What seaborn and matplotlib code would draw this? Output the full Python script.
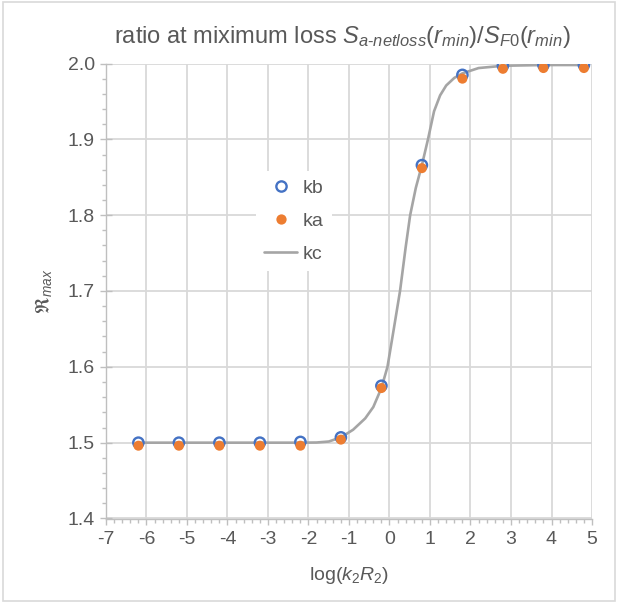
import matplotlib
matplotlib.use("Agg")
import matplotlib.pyplot as plt
from matplotlib.lines import Line2D
from matplotlib.patches import Rectangle
from matplotlib.ticker import MultipleLocator, FormatStrFormatter
import seaborn as sns
import pandas as pd

# sampled points of the two series
log_k2R2 = [-6.2, -5.2, -4.2, -3.2, -2.2, -1.2, -0.2, 0.8, 1.8, 2.8, 3.8, 4.8]
kb = [1.500, 1.500, 1.500, 1.500, 1.501, 1.507, 1.575, 1.866, 1.985, 1.997, 1.998, 1.998]
ka = [1.496, 1.496, 1.496, 1.496, 1.496, 1.504, 1.572, 1.862, 1.980, 1.993, 1.994, 1.994]

# smooth reference curve
kc_x = [-6.2, -5.2, -4.2, -3.2, -2.2, -1.8, -1.5, -1.2, -0.9, -0.6, -0.4, -0.2,
        -0.05, 0.1, 0.26, 0.4, 0.51, 0.65, 0.8, 0.95, 1.1, 1.25, 1.4, 1.6,
        1.8, 2.2, 2.8, 3.8, 4.8]
kc_y = [1.500, 1.500, 1.500, 1.500, 1.500, 1.5002, 1.5015, 1.507, 1.517, 1.532,
        1.547, 1.572, 1.600, 1.648, 1.700, 1.758, 1.800, 1.836, 1.866, 1.900,
        1.937, 1.958, 1.971, 1.981, 1.987, 1.994, 1.997, 1.998, 1.998]

BLUE = "#4472C4"
ORANGE = "#ED7D31"
GREY_LINE = "#A5A5A5"
TEXT = "#595959"
GRID = "#D9D9D9"
AXIS = "#BFBFBF"

sns.set_theme(style="white")
plt.rcParams["font.family"] = ["Liberation Sans", "DejaVu Sans"]
plt.rcParams["mathtext.fontset"] = "custom"
plt.rcParams["mathtext.rm"] = "Liberation Sans"
plt.rcParams["mathtext.it"] = "Liberation Sans:italic"
plt.rcParams["mathtext.fallback"] = "stix"
plt.rcParams["axes.unicode_minus"] = False

fig = plt.figure(figsize=(6.18, 6.03), dpi=100)
ax = fig.add_axes([106 / 618, 1 - 518.5 / 603, 486 / 618, 455 / 603])

pts = pd.DataFrame({"x": log_k2R2, "kb": kb, "ka": ka})
curve = pd.DataFrame({"x": kc_x, "y": kc_y})

sns.lineplot(data=curve, x="x", y="y", ax=ax, color=GREY_LINE, linewidth=1.9,
             sort=False, estimator=None, zorder=3)
sns.scatterplot(data=pts, x="x", y="kb", ax=ax, marker="o", s=55,
                fc="none", ec=BLUE, linewidth=1.7, zorder=4)
sns.scatterplot(data=pts, x="x", y="ka", ax=ax, marker="o", s=52,
                color=ORANGE, ec="none", linewidth=0, zorder=5)

ax.set_xlim(-7, 5)
ax.set_ylim(1.4, 2.0)
ax.xaxis.set_major_locator(MultipleLocator(1))
ax.xaxis.set_minor_locator(MultipleLocator(0.2))
ax.yaxis.set_major_locator(MultipleLocator(0.1))
ax.yaxis.set_minor_locator(MultipleLocator(0.02))
ax.yaxis.set_major_formatter(FormatStrFormatter("%.1f"))

ax.grid(True, which="major", color=GRID, linewidth=1.3)
ax.set_axisbelow(True)
for side in ("top", "right"):
    ax.spines[side].set_visible(False)
for side in ("left", "bottom"):
    ax.spines[side].set_color(AXIS)
    ax.spines[side].set_linewidth(1.0)

ax.tick_params(axis="x", which="major", direction="out", length=4, width=1,
               color=AXIS, labelsize=14, labelcolor=TEXT, pad=5, bottom=True)
ax.tick_params(axis="x", which="minor", direction="out", length=3, width=1,
               color=AXIS, bottom=True)
ax.tick_params(axis="y", which="major", direction="inout", length=8, width=1,
               color=AXIS, labelsize=14, labelcolor=TEXT, pad=4, left=True)
ax.tick_params(axis="y", which="minor", direction="out", length=3, width=1,
               color=AXIS, left=True)

ax.set_xlabel(r"log($k_2R_2$)", fontsize=14, color=TEXT, labelpad=12)
ax.set_ylabel(r"$\Re_{max}$", fontsize=14, color=TEXT, labelpad=10)
ax.set_title(r"ratio at miximum loss $S_{a\text{-}netloss}(r_{min})/S_{\mathit{F0}}(r_{min})$",
             fontsize=17, color=TEXT, pad=15, x=0.487)

handles = [
    Line2D([], [], linestyle="none", marker="o", markersize=7.4,
           markerfacecolor="none", markeredgecolor=BLUE, markeredgewidth=1.7),
    Line2D([], [], linestyle="none", marker="o", markersize=7.4,
           markerfacecolor=ORANGE, markeredgecolor="none"),
    Line2D([], [], color=GREY_LINE, linewidth=1.9),
]
leg = ax.legend(handles, ["kb", "ka", "kc"], loc="center",
                bbox_to_anchor=((294 - 106) / 486, (518.5 - 221) / 455),
                frameon=True, facecolor="white", edgecolor="none", framealpha=1,
                fontsize=14, labelcolor=TEXT, handlelength=1.7,
                handletextpad=0.3, labelspacing=0.8, borderpad=0.4,
                fancybox=False)

fig.patches.append(Rectangle((3 / 618, 2 / 603), 612 / 618, 599 / 603,
                             transform=fig.transFigure, fill=False,
                             edgecolor=GRID, linewidth=1.2))

fig.savefig("out.png", dpi=100)
